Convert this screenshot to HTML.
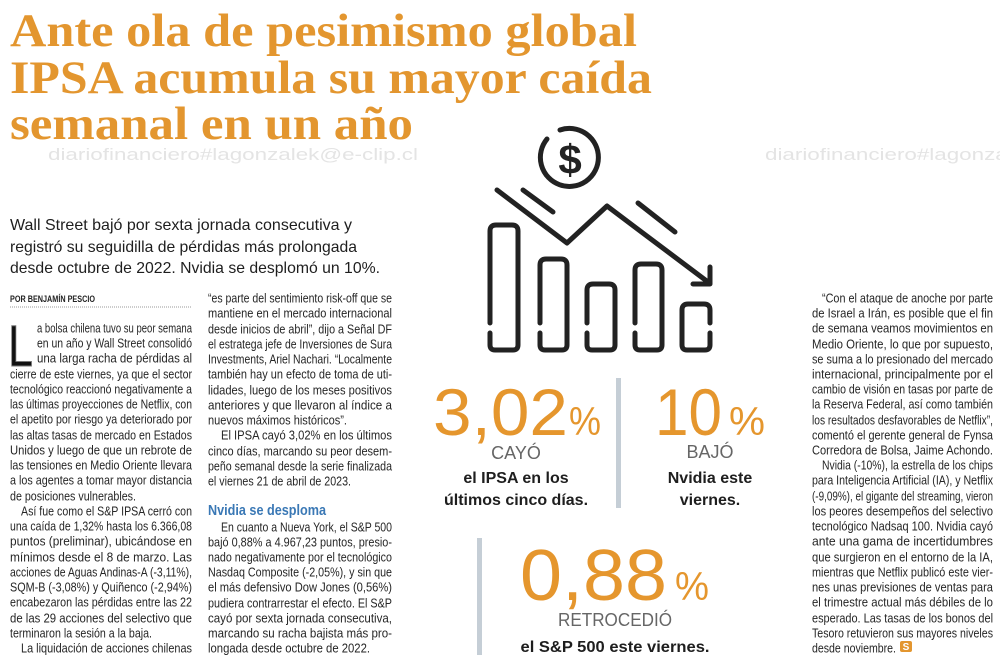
<!DOCTYPE html>
<html><head><meta charset="utf-8"><style>
html,body{margin:0;padding:0;background:#fff;width:1000px;height:666px;overflow:hidden}
svg{display:block}
.b{font-family:"Liberation Sans",sans-serif;font-size:12.6px;fill:#262626}
</style></head><body>
<svg id="pg" width="1000" height="666" viewBox="0 0 1000 666" xmlns="http://www.w3.org/2000/svg">
<g font-family="Liberation Sans, sans-serif" font-size="17" fill="#e4e4e4">
<text x="48" y="160" textLength="370" lengthAdjust="spacingAndGlyphs">diariofinanciero#lagonzalek@e-clip.cl</text>
<text x="765" y="160" textLength="370" lengthAdjust="spacingAndGlyphs">diariofinanciero#lagonzalek@e-clip.cl</text>
</g>
<g font-family="Liberation Serif, serif" font-weight="bold" font-size="47" fill="#e3962f">
<text x="10" y="46" textLength="627" lengthAdjust="spacingAndGlyphs">Ante ola de pesimismo global</text>
<text x="10" y="93" textLength="642" lengthAdjust="spacingAndGlyphs">IPSA acumula su mayor caída</text>
<text x="10" y="139" textLength="403" lengthAdjust="spacingAndGlyphs">semanal en un año</text>
</g>
<g font-family="Liberation Sans, sans-serif" font-size="16" fill="#1e1e1e">
<text x="10" y="230" textLength="342" lengthAdjust="spacingAndGlyphs">Wall Street bajó por sexta jornada consecutiva y</text>
<text x="10" y="252" textLength="347" lengthAdjust="spacingAndGlyphs">registró su seguidilla de pérdidas más prolongada</text>
<text x="10" y="273" textLength="370" lengthAdjust="spacingAndGlyphs">desde octubre de 2022. Nvidia se desplomó un 10%.</text>
</g>
<text x="10" y="302" font-family="Liberation Sans, sans-serif" font-weight="bold" font-size="9" fill="#222" textLength="85" lengthAdjust="spacingAndGlyphs">POR BENJAMÍN PESCIO</text>
<line x1="10" y1="307" x2="192" y2="307" stroke="#999" stroke-width="1" stroke-dasharray="1,1"/>
<text x="8" y="366" font-family="Liberation Sans, sans-serif" font-size="58" fill="#111" stroke="#777" stroke-width="1" textLength="25" lengthAdjust="spacingAndGlyphs">L</text>
<text x="208" y="515" font-family="Liberation Sans, sans-serif" font-weight="bold" font-size="15" fill="#3a78b5" textLength="118" lengthAdjust="spacingAndGlyphs">Nvidia se desploma</text>
<g id="cols"></g>
<rect x="900" y="641" width="12" height="11" rx="2" fill="#e3962f"/>
<text x="906" y="650" text-anchor="middle" font-family="Liberation Sans, sans-serif" font-weight="bold" font-size="10" fill="#fff">S</text>

<g fill="none" stroke="#222" stroke-width="5" stroke-linecap="round" stroke-linejoin="round">
<path d="M547,139 A29,29 0 1 0 560,130"/>
<path d="M497,190 L567,243 L607,206 L708,282"/>
<path d="M710,267 V284 H693"/>
<path d="M523,190 L553,212"/>
<path d="M638,203 L675,232"/>
<path d="M490,323 V231 Q490,225 496,225 H512 Q518,225 518,231 V345 Q518,350 513,350 H495 Q490,350 490,345 V333"/>
<path d="M540,323 V265 Q540,259 546,259 H561 Q567,259 567,265 V345 Q567,350 562,350 H545 Q540,350 540,345 V333"/>
<path d="M587,323 V290 Q587,284 593,284 H609 Q615,284 615,290 V345 Q615,350 610,350 H592 Q587,350 587,345 V333"/>
<path d="M635,323 V270 Q635,264 641,264 H656 Q662,264 662,270 V345 Q662,350 657,350 H640 Q635,350 635,345 V333"/>
<path d="M710,323 V310 Q710,304 704,304 H688 Q682,304 682,310 V345 Q682,350 687,350 H705 Q710,350 710,345 V333"/>
</g>
<text x="570" y="174" text-anchor="middle" font-family="Liberation Sans, sans-serif" font-weight="bold" font-size="42" fill="#222">$</text>

<rect x="616" y="378" width="5" height="130" fill="#c5ced6"/>
<rect x="477" y="538" width="5" height="117" fill="#c5ced6"/>
<g font-family="Liberation Sans, sans-serif">
<text x="433" y="435" font-size="66" fill="#e5962d" textLength="135" lengthAdjust="spacingAndGlyphs">3,02</text>
<text x="569" y="435" font-size="40" fill="#e5962d" textLength="32" lengthAdjust="spacingAndGlyphs">%</text>
<text x="516" y="459" text-anchor="middle" font-size="18" fill="#666">CAYÓ</text>
<text x="516" y="483" text-anchor="middle" font-size="16" font-weight="bold" fill="#1e1e1e">el IPSA en los</text>
<text x="516" y="505" text-anchor="middle" font-size="16" font-weight="bold" fill="#1e1e1e">últimos cinco días.</text>
</g>
<g font-family="Liberation Sans, sans-serif">
<text x="655" y="435" font-size="66" fill="#e5962d" textLength="67" lengthAdjust="spacingAndGlyphs">10</text>
<text x="729" y="435" font-size="40" fill="#e5962d" textLength="36" lengthAdjust="spacingAndGlyphs">%</text>
<text x="710" y="458" text-anchor="middle" font-size="18" fill="#666">BAJÓ</text>
<text x="710" y="483" text-anchor="middle" font-size="16" font-weight="bold" fill="#1e1e1e">Nvidia este</text>
<text x="710" y="505" text-anchor="middle" font-size="16" font-weight="bold" fill="#1e1e1e">viernes.</text>
</g>
<g font-family="Liberation Sans, sans-serif">
<text x="520" y="600" font-size="72" fill="#e5962d" textLength="147" lengthAdjust="spacingAndGlyphs">0,88</text>
<text x="675" y="600" font-size="40" fill="#e5962d" textLength="34" lengthAdjust="spacingAndGlyphs">%</text>
<text x="615" y="626" text-anchor="middle" font-size="18" fill="#666" textLength="114" lengthAdjust="spacingAndGlyphs">RETROCEDIÓ</text>
<text x="615" y="652" text-anchor="middle" font-size="16" font-weight="bold" fill="#1e1e1e" textLength="189" lengthAdjust="spacingAndGlyphs">el S&amp;P 500 este viernes.</text>
</g>
</svg>
<script>
var NS="http://www.w3.org/2000/svg";
// [text, x, centerY, width (0 = natural)]
var col1=[
["a bolsa chilena tuvo su peor semana",37,328,155],
["en un año y Wall Street consolidó",37,343,155],
["una larga racha de pérdidas al",37,358,155],
["cierre de este viernes, ya que el sector",10,374,182],
["tecnológico reaccionó negativamente a",10,389,182],
["las últimas proyecciones de Netflix, con",10,404,182],
["el apetito por riesgo ya deteriorado por",10,419,182],
["las altas tasas de mercado en Estados",10,435,182],
["Unidos y luego de que un rebrote de",10,450,182],
["las tensiones en Medio Oriente llevara",10,465,182],
["a los agentes a tomar mayor distancia",10,480,182],
["de posiciones vulnerables.",10,496,126],
["Así fue como el S&P IPSA cerró con",21,511,171],
["una caída de 1,32% hasta los 6.366,08",10,526,182],
["puntos (preliminar), ubicándose en",10,541,182],
["mínimos desde el 8 de marzo. Las",10,557,182],
["acciones de Aguas Andinas-A (-3,11%),",10,572,182],
["SQM-B (-3,08%) y Quiñenco (-2,94%)",10,587,182],
["encabezaron las pérdidas entre las 22",10,602,182],
["de las 29 acciones del selectivo que",10,618,182],
["terminaron la sesión a la baja.",10,633,142],
["La liquidación de acciones chilenas",21,648,171]];
var col2=[
["“es parte del sentimiento risk-off que se",208,298,184],
["mantiene en el mercado internacional",208,313,184],
["desde inicios de abril”, dijo a Señal DF",208,329,184],
["el estratega jefe de Inversiones de Sura",208,344,184],
["Investments, Ariel Nachari. “Localmente",208,359,184],
["también hay un efecto de toma de uti-",208,374,184],
["lidades, luego de los meses positivos",208,390,184],
["anteriores y que llevaron al índice a",208,405,184],
["nuevos máximos históricos”.",208,420,139],
["El IPSA cayó 3,02% en los últimos",221,435,171],
["cinco días, marcando su peor desem-",208,451,184],
["peño semanal desde la serie finalizada",208,466,184],
["el viernes 21 de abril de 2023.",208,481,143],
["En cuanto a Nueva York, el S&P 500",221,527,171],
["bajó 0,88% a 4.967,23 puntos, presio-",208,542,184],
["nado negativamente por el tecnológico",208,557,184],
["Nasdaq Composite (-2,05%), y sin que",208,572,184],
["el más defensivo Dow Jones (0,56%)",208,587,184],
["pudiera contrarrestar el efecto. El S&P",208,603,184],
["cayó por sexta jornada consecutiva,",208,618,184],
["marcando su racha bajista más pro-",208,633,184],
["longada desde octubre de 2022.",208,648,162]];
var col3=[
["“Con el ataque de anoche por parte",822,298,171],
["de Israel a Irán, es posible que el fin",812,313,181],
["de semana veamos movimientos en",812,328,181],
["Medio Oriente, lo que por supuesto,",812,344,181],
["se suma a lo presionado del mercado",812,359,181],
["internacional, principalmente por el",812,374,181],
["cambio de visión en tasas por parte de",812,389,181],
["la Reserva Federal, así como también",812,404,181],
["los resultados desfavorables de Netflix”,",812,420,181],
["comentó el gerente general de Fynsa",812,435,181],
["Corredora de Bolsa, Jaime Achondo.",812,450,181],
["Nvidia (-10%), la estrella de los chips",822,465,171],
["para Inteligencia Artificial (IA), y Netflix",812,480,181],
["(-9,09%), el gigante del streaming, vieron",812,496,181],
["los peores desempeños del selectivo",812,511,181],
["tecnológico Nadsaq 100. Nvidia cayó",812,526,181],
["ante una gama de incertidumbres",812,541,181],
["que surgieron en el entorno de la IA,",812,557,181],
["mientras que Netflix publicó este vier-",812,572,181],
["nes unas previsiones de ventas para",812,587,181],
["el trimestre actual más débiles de lo",812,602,181],
["esperado. Las tasas de los bonos del",812,618,181],
["Tesoro retuvieron sus mayores niveles",812,633,181],
["desde noviembre.",812,648,84]];
var g=document.getElementById('cols');
function draw(lines,name){
  for(var i=0;i<lines.length;i++){
    var L=lines[i];
    var t=document.createElementNS(NS,'text');
    t.setAttribute('class','b');
    t.setAttribute('x',L[1]);
    t.setAttribute('y',L[2]+4.5);
    t.setAttribute('textLength',L[3]);
    t.setAttribute('lengthAdjust','spacingAndGlyphs');
    t.textContent=L[0];
    
    
    g.appendChild(t);
  }
}
draw(col1,'column-1');
draw(col2,'column-2');
draw(col3,'column-3');
</script>
</body></html>
